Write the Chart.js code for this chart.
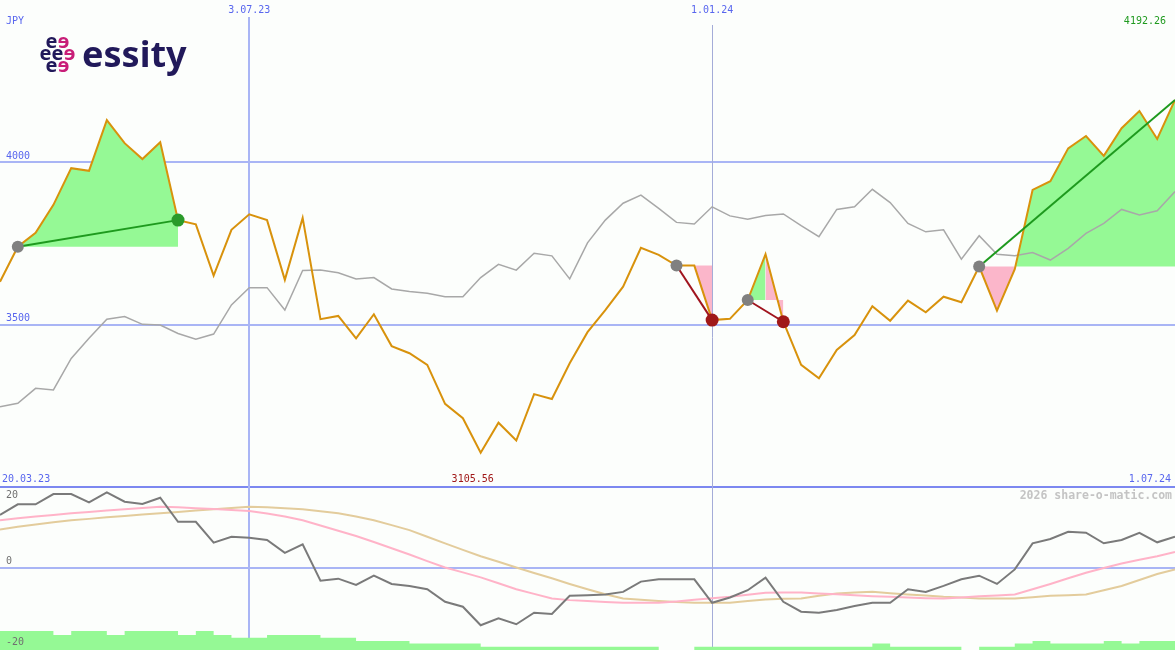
<!DOCTYPE html>
<html>
<head>
<meta charset="utf-8">
<script src="https://cdn.jsdelivr.net/npm/chart.js@4/dist/chart.umd.min.js"></script>
<style>
  html, body { margin: 0; padding: 0; background: #fcfefc; }
  canvas { display: block; }
</style>
</head>
<body>
<canvas id="chart" width="1175" height="650"></canvas>
<script>
// weekly closes, JPY
const closes = [3632,3740,3783,3869,3982,3974,4130,4059,4010,4062,3822,3809,3651,3792,3840,3822,3638,3829,3517,3527,
  3458,3532,3434,3412,3376,3256,3212,3105.56,3198,3143,3286,3271,3381,3477,3545,3617,3737,3715,3682,3682,
  3514,3518,3576,3717,3509,3376,3335,3422,3468,3557,3512,3574,3538,3586,3569,3679,3543,3671,3915,3942,
  4043,4081,4020,4105,4158,4072,4192.26];
// comparison index (grey line)
const benchmark = [3247,3258,3304,3299,3396,3458,3517,3525,3501,3499,3473,3455,3471,3561,3614,3614,3545,3667,3668,3660,
  3641,3645,3610,3602,3597,3586,3586,3645,3686,3668,3720,3712,3641,3752,3822,3874,3899,3858,3815,3810,
  3863,3835,3825,3836,3841,3805,3771,3855,3863,3917,3876,3812,3786,3792,3702,3774,3717,3712,3722,3699,
  3735,3781,3812,3855,3838,3851,3910];
// lower panel
const momentum = [16.0,19.2,19.2,22.3,22.3,19.8,22.8,20.0,19.3,21.2,13.9,13.9,7.6,9.4,9.1,8.4,4.5,7.1,-3.9,-3.3,
  -5.2,-2.4,-4.9,-5.5,-6.5,-10.3,-11.8,-17.4,-15.3,-17.1,-13.6,-14.0,-8.5,-8.3,-8.1,-7.3,-4.2,-3.5,-3.5,-3.5,
  -10.6,-9.0,-6.8,-3.0,-10.3,-13.3,-13.6,-12.8,-11.6,-10.6,-10.6,-6.5,-7.3,-5.5,-3.5,-2.4,-4.9,-0.5,7.4,8.7,
  10.9,10.6,7.4,8.4,10.6,7.7,9.4];
const avgFast = [14.4,15.0,15.5,16.0,16.5,16.9,17.3,17.7,18.1,18.5,18.3,18.0,17.8,17.5,17.2,16.4,15.5,14.4,12.8,11.2,
  9.6,7.8,5.9,4.0,2.0,0.1,-1.4,-2.9,-4.7,-6.5,-7.9,-9.3,-9.8,-10.1,-10.4,-10.6,-10.6,-10.6,-10.2,-9.7,
  -9.2,-8.8,-8.2,-7.6,-7.5,-7.5,-7.8,-8.0,-8.3,-8.6,-8.8,-9.0,-9.2,-9.3,-9.0,-8.6,-8.4,-8.1,-6.5,-4.9,
  -3.2,-1.5,-0.1,1.3,2.4,3.5,4.8];
const avgSlow = [11.6,12.4,13.1,13.8,14.4,14.8,15.3,15.7,16.1,16.5,16.9,17.3,17.7,18.1,18.5,18.3,18.0,17.7,17.1,16.5,
  15.5,14.4,12.9,11.4,9.4,7.4,5.4,3.5,1.8,0.1,-1.6,-3.2,-4.9,-6.5,-8.0,-9.3,-9.7,-10.1,-10.4,-10.6,
  -10.6,-10.6,-10.1,-9.6,-9.4,-9.3,-8.5,-7.8,-7.5,-7.3,-7.7,-8.1,-8.4,-8.8,-9.0,-9.3,-9.3,-9.3,-8.9,-8.5,
  -8.3,-8.1,-6.8,-5.5,-3.7,-1.9,-0.5];
// weekly volume, one value per week interval
const volume = [5.9,5.9,5.9,5.9,4.7,5.9,5.9,4.7,5.9,5.9,5.9,4.7,5.9,4.7,
  3.8,3.8,4.7,4.7,4.7,3.8,3.8,2.8,2.8,2.8,2.0,2.0,2.0,2.0,
  1,1,1,1,1,1,1,1,1,1,0,0,1,1,1,1,1,1,1,1,1,1,
  2.0,1,1,1,1,0,1,1,2.0,2.8,2.0,2.0,2.0,2.8,2.0,2.8];

// signals: entry week, exit week
const tradeStart = [1, 38, 42, 55];
const tradeEnd = [10, 40, 44, 66];
const tradeClosed = [true, true, true, false];

const currency = 'JPY';
const gridDates = ['3.07.23', '1.01.24'];
const gridDateIdx = [14, 40];
const firstDate = '20.03.23';
const lastDate = '1.07.24';
const priceLevels = [4000, 3500];
const momLevels = [20, 0, -20];

// layout
const H = 650, splitY = 487;
const mainMax = 4500, mainMin = 3000;
const lowTop = 24.45, lowBottom = -24.9;

const BLUE = '#5866ee', GRID = '#a9b5f5';
const UP = '#95f995', DOWN = '#fbb6ca';
const WIN = '#1e9a1e', LOSS = '#a0141e';

const pts = arr => arr.map((v, i) => ({x: i, y: v}));
const volPts = volume.map((v, i) => ({x: i, y: v}));
volPts.push({x: volume.length, y: volume[volume.length - 1]});

const datasets = [];

datasets.push({
  data: volPts, yAxisID: 'yVol', stepped: 'after', fill: 'start',
  backgroundColor: UP, borderWidth: 0, pointRadius: 0, order: 20
});

tradeStart.forEach((s, k) => {
  const e = tradeEnd[k];
  const entry = closes[s];
  const seg = [];
  for (let i = s; i <= e; i++) seg.push({x: i, y: closes[i]});
  datasets.push({
    data: seg, yAxisID: 'y', borderWidth: 0, borderColor: 'transparent', pointRadius: 0,
    backgroundColor: UP, fill: {value: entry},
    segment: { backgroundColor: c => c.p1.parsed.y >= entry ? UP : DOWN },
    order: 15
  });
});

datasets.push({
  data: pts(benchmark), yAxisID: 'y', borderColor: '#a8a8a8', borderWidth: 1.5,
  pointRadius: 0, fill: false, order: 12
});
datasets.push({
  data: pts(avgSlow), yAxisID: 'yLow', borderColor: '#e3cc9c', borderWidth: 2,
  pointRadius: 0, fill: false, order: 11
});
datasets.push({
  data: pts(avgFast), yAxisID: 'yLow', borderColor: '#ffb3c8', borderWidth: 2,
  pointRadius: 0, fill: false, order: 10
});
datasets.push({
  data: pts(momentum), yAxisID: 'yLow', borderColor: '#7a7a7a', borderWidth: 2,
  pointRadius: 0, fill: false, order: 9
});
datasets.push({
  data: pts(closes), yAxisID: 'y', borderColor: '#d8920c', borderWidth: 2,
  pointRadius: 0, fill: false, order: 8
});

tradeStart.forEach((s, k) => {
  const e = tradeEnd[k];
  const won = closes[e] > closes[s];
  datasets.push({
    data: [{x: s, y: closes[s]}, {x: e, y: closes[e]}], yAxisID: 'y',
    borderColor: won ? WIN : LOSS, borderWidth: 2, pointRadius: 0, fill: false, order: 6
  });
});

datasets.push({
  data: tradeStart.map(s => ({x: s, y: closes[s]})), yAxisID: 'y', showLine: false,
  pointRadius: 6, pointBackgroundColor: '#808080', pointBorderWidth: 0, order: 4
});
const closedIdx = tradeEnd.filter((e, k) => tradeClosed[k]);
datasets.push({
  data: closedIdx.map(e => ({x: e, y: closes[e]})), yAxisID: 'y', showLine: false,
  pointRadius: 6.5, pointBorderWidth: 0,
  pointBackgroundColor: closedIdx.map(e => {
    const k = tradeEnd.indexOf(e);
    return closes[e] > closes[tradeStart[k]] ? '#2a9a2a' : '#a01818';
  }),
  order: 3
});

function hline(ctx, y, w) {
  ctx.beginPath(); ctx.moveTo(0, y); ctx.lineTo(w, y); ctx.stroke();
}

function drawLogo(ctx) {
  ctx.save();
  ctx.fillStyle = '#21195a';
  ctx.font = 'bold 36px "Noto Sans"';
  ctx.textAlign = 'left';
  ctx.textBaseline = 'alphabetic';
  ctx.fillText('essity', 82, 67);
  // cluster of little e's
  ctx.font = 'bold 20px "Noto Sans"';
  ctx.textAlign = 'center';
  ctx.textBaseline = 'middle';
  const cx = 57.5, cy = 57, r = 12;
  const cells = [
    [-0.5, -1, 0], [0.5, -1, 1],
    [-1, 0, 0], [0, 0, 0], [1, 0, 1],
    [-0.5, 1, 0], [0.5, 1, 1]
  ];
  cells.forEach(([dx, dy, mag]) => {
    const x = cx + dx * r, y = cy + dy * r;
    ctx.save();
    ctx.translate(x, y);
    if (mag) { ctx.scale(-1, 1); ctx.fillStyle = '#c81e78'; }
    else ctx.fillStyle = '#21195a';
    ctx.fillText('e', 0, -3);
    ctx.restore();
  });
  ctx.restore();
}

const decor = {
  id: 'decor',
  beforeDraw(chart) {
    const {ctx, width, height} = chart;
    ctx.save();
    ctx.fillStyle = '#fcfefc';
    ctx.fillRect(0, 0, width, height);
    ctx.restore();
  },
  beforeDatasetsDraw(chart) {
    const {ctx, width, height} = chart;
    const sx = chart.scales.x, sy = chart.scales.y, sl = chart.scales.yLow;
    ctx.save();
    ctx.strokeStyle = GRID;
    ctx.lineWidth = 2;
    priceLevels.forEach(v => hline(ctx, Math.round(sy.getPixelForValue(v)), width));
    hline(ctx, Math.round(sl.getPixelForValue(0)), width);
    ctx.strokeStyle = '#7c88f0';
    hline(ctx, Math.round(sy.getPixelForValue(mainMin)), width);

    // week grid lines
    gridDateIdx.forEach((d, k) => {
      const x = sx.getPixelForValue(d);
      ctx.beginPath();
      if (k === 0) {
        ctx.strokeStyle = GRID; ctx.lineWidth = 2;
        ctx.moveTo(Math.round(x), 17); ctx.lineTo(Math.round(x), height);
      } else {
        ctx.strokeStyle = '#a4acd8'; ctx.lineWidth = 1;
        ctx.moveTo(Math.round(x) + 0.5, 25); ctx.lineTo(Math.round(x) + 0.5, height);
      }
      ctx.stroke();
    });
    ctx.restore();
    drawLogo(ctx);
  },
  afterDatasetsDraw(chart) {
    const {ctx, width, height} = chart;
    const sx = chart.scales.x, sy = chart.scales.y, sl = chart.scales.yLow;
    ctx.save();
    ctx.font = '10px "DejaVu Sans Mono"';
    ctx.textBaseline = 'middle';
    ctx.fillStyle = BLUE;
    ctx.textAlign = 'left';
    ctx.fillText(currency, 6, 21);
    priceLevels.forEach(v => ctx.fillText(String(v), 6, sy.getPixelForValue(v) - 6));
    ctx.textAlign = 'center';
    gridDateIdx.forEach((d, k) => ctx.fillText(gridDates[k], sx.getPixelForValue(d), 10));

    const rowY = splitY - 8;
    ctx.textAlign = 'left';
    ctx.fillText(firstDate, 2, rowY);
    ctx.textAlign = 'right';
    ctx.fillText(lastDate, width - 4, rowY);

    const hi = Math.max(...closes), lo = Math.min(...closes);
    ctx.fillStyle = '#1f9a1f';
    ctx.fillText(hi.toFixed(2), width - 9, 21);
    ctx.fillStyle = '#a01818';
    ctx.textAlign = 'center';
    ctx.fillText(lo.toFixed(2), sx.getPixelForValue(closes.indexOf(lo)) - 8, rowY);

    // level labels; the lowest one sits on the bottom edge
    ctx.fillStyle = '#707070';
    ctx.textAlign = 'left';
    momLevels.forEach(v => {
      const y = v < 0 ? height - 8 : sl.getPixelForValue(v) - 6;
      ctx.fillText(String(v), 6, y);
    });

    ctx.font = 'bold 11.5px "DejaVu Sans Mono"';
    ctx.fillStyle = '#c4c4c4';
    ctx.textAlign = 'right';
    ctx.fillText('2026 share-o-matic.com', width - 3, 496);
    ctx.restore();
  }
};

new Chart(document.getElementById('chart'), {
  type: 'line',
  data: { datasets },
  options: {
    responsive: false,
    animation: false,
    devicePixelRatio: 1,
    layout: { padding: 0, autoPadding: false },
    plugins: { legend: { display: false }, tooltip: { enabled: false } },
    events: [],
    scales: {
      x: { type: 'linear', min: 0, max: closes.length - 1, display: false },
      y: { min: mainMax - (mainMax - mainMin) * H / splitY, max: mainMax, display: false },
      yLow: { min: lowBottom, max: lowBottom + (lowTop - lowBottom) * H / (H - splitY), display: false },
      yVol: { min: 0, max: 203, display: false }
    }
  },
  plugins: [decor]
});
</script>
</body>
</html>
